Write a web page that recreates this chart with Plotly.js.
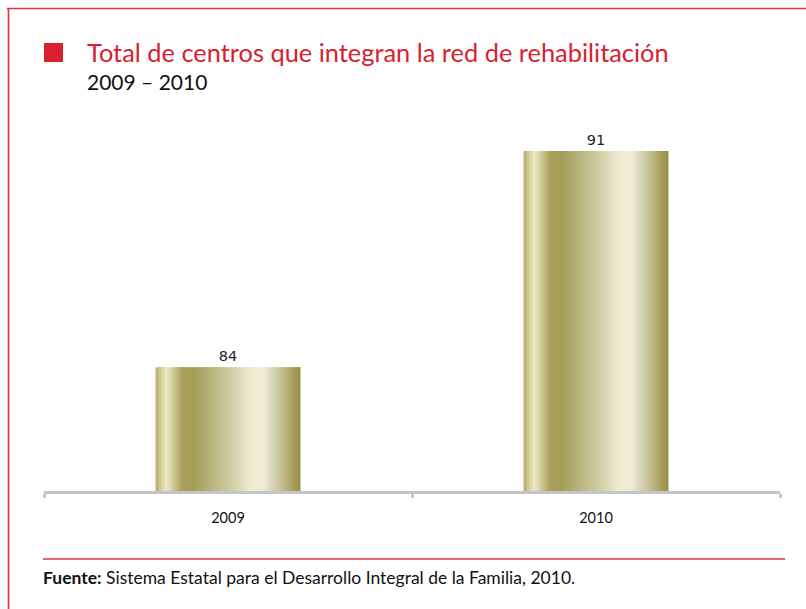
<!DOCTYPE html>
<html>
<head>
<meta charset="utf-8">
<script src="https://cdn.plot.ly/plotly-3.0.1.min.js"></script>
<style>html,body{margin:0;padding:0;background:#fff;}#chart{width:806px;height:609px;}</style>
</head>
<body>
<div id="chart"></div>
<script>
// ---- data ----
const years = ['2009', '2010'];
const centros = [84, 91];
const titleText = 'Total de centros que integran la red de rehabilitación';
const subtitleText = '2009 – 2010';
const sourceLabel = 'Fuente:';
const sourceText = 'Sistema Estatal para el Desarrollo Integral de la Familia, 2010.';

// ---- styling: metallic gradient across each bar, built from thin stripes ----
const gradStops = [
  [0.00, '#b3aa6c'], [0.04, '#d6d1a0'], [0.08, '#eeeac6'], [0.12, '#d2cc9a'],
  [0.18, '#a9a05b'], [0.26, '#a59d58'], [0.40, '#b9b580'], [0.55, '#d7d4ae'],
  [0.66, '#eeead0'], [0.74, '#f2edd6'], [0.80, '#d9d7bd'], [0.88, '#c1bb89'],
  [0.96, '#a49a54'], [1.00, '#9b8f47']
];
function hex2rgb(h){return [parseInt(h.substr(1,2),16),parseInt(h.substr(3,2),16),parseInt(h.substr(5,2),16)];}
function gradColor(t){
  for (let k = 0; k < gradStops.length - 1; k++) {
    const a = gradStops[k], b = gradStops[k+1];
    if (t >= a[0] && t <= b[0]) {
      const f = (t - a[0]) / (b[0] - a[0]);
      const ca = hex2rgb(a[1]), cb = hex2rgb(b[1]);
      const c = ca.map((v, i) => Math.round(v + (cb[i] - v) * f));
      return 'rgb(' + c.join(',') + ')';
    }
  }
  return gradStops[gradStops.length-1][1];
}
const barWidth = 0.394;
const nStripes = 48;
const step = barWidth / nStripes;
const traces = [];
for (let i = 0; i < nStripes; i++) {
  traces.push({
    type: 'bar',
    x: years,
    y: centros,
    offset: -barWidth / 2 + i * step,
    width: Math.min(step * 1.8, barWidth - i * step),
    marker: {color: gradColor((i + 0.5) / nStripes), line: {width: 0}},
    hoverinfo: 'skip',
    showlegend: false
  });
}
// value labels drawn by the library above each bar (transparent full-width bar)
traces.push({
  type: 'bar',
  x: years,
  y: centros,
  width: barWidth,
  marker: {color: 'rgba(0,0,0,0)', line: {width: 0}},
  text: centros.map(String),
  textposition: 'outside',
  cliponaxis: false,
  textfont: {family: 'DejaVu Sans, sans-serif', size: 14.5, color: '#222'},
  hoverinfo: 'skip',
  showlegend: false
});

// ---- layout ----
const W = 806, H = 609;
const mL = 44, mR = 26, mT = 120, mB = 118;
const pw = W - mL - mR, ph = H - mT - mB;
const px = x => (x - mL) / pw;
const py = y => (H - mB - y) / ph;

const red = '#d7212f';
const annotations = [
  {xref: 'paper', yref: 'paper', x: px(85), y: py(52), xanchor: 'left', yanchor: 'middle',
   text: titleText, showarrow: false, font: {family: 'Lato, sans-serif', size: 25.4, color: red}},
  {xref: 'paper', yref: 'paper', x: px(85), y: py(81), xanchor: 'left', yanchor: 'middle',
   text: subtitleText, showarrow: false, font: {family: 'Lato, sans-serif', size: 21, color: '#111'}},
  {xref: 'paper', yref: 'paper', x: px(41), y: py(577), xanchor: 'left', yanchor: 'middle',
   text: '<b>' + sourceLabel + '</b> ' + sourceText, showarrow: false,
   font: {family: 'Lato, sans-serif', size: 17.5, color: '#111'}}
];

const shapes = [
  // red square marker
  {type: 'rect', xref: 'paper', yref: 'paper', x0: px(44), x1: px(63), y0: py(62), y1: py(43),
   fillcolor: red, line: {width: 0}},
  // frame lines (top and left)
  {type: 'line', xref: 'paper', yref: 'paper', x0: px(7), x1: px(806), y0: py(8.5), y1: py(8.5),
   line: {color: '#e3303a', width: 1.6}},
  {type: 'line', xref: 'paper', yref: 'paper', x0: px(8.5), x1: px(8.5), y0: py(8), y1: py(609),
   line: {color: '#e3303a', width: 1.6}},
  // footer rule
  {type: 'line', xref: 'paper', yref: 'paper', x0: px(43), x1: px(785), y0: py(559), y1: py(559),
   line: {color: '#e3303a', width: 1.6}}
];

const layout = {
  width: W, height: H,
  margin: {l: mL, r: mR, t: mT, b: mB, pad: 0},
  paper_bgcolor: '#fff', plot_bgcolor: '#fff',
  barmode: 'overlay',
  showlegend: false,
  xaxis: {
    type: 'category', range: [-0.5, 1.5],
    showline: true, linecolor: '#c4c5ca', linewidth: 3,
    ticks: 'outside', tickson: 'boundaries', ticklen: 4, tickwidth: 3, tickcolor: '#c4c5ca',
    showgrid: false, zeroline: false,
    tickfont: {family: 'Lato, sans-serif', size: 14.5, color: '#111'},
    ticklabelstandoff: 12,
    fixedrange: true
  },
  yaxis: {range: [80, 92], visible: false, fixedrange: true},
  annotations: annotations,
  shapes: shapes
};

Plotly.newPlot('chart', traces, layout, {displayModeBar: false, staticPlot: true});
</script>
</body>
</html>
